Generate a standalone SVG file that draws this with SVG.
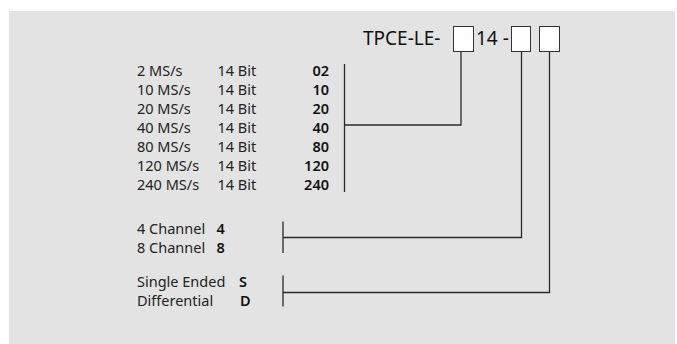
<svg xmlns="http://www.w3.org/2000/svg" width="677" height="344" viewBox="0 0 677 344">
<style>
.t{font-family:"Noto Sans","Open Sans",sans-serif;font-size:14.5px;fill:#222}
.b{font-weight:600;fill:#111}
.e{text-anchor:end}
.ttl{font-family:"Noto Sans","Open Sans",sans-serif;font-size:19px;fill:#111}
.ln{fill:none;stroke:#2a2a2a;stroke-width:1.3}
.bx{fill:#fff;stroke:#333;stroke-width:1}
</style>
<rect x="9" y="11" width="666" height="333" fill="#e3e3e3"/>
<g id="title">
<text class="ttl" x="363" y="45">TPCE-LE-</text>
<text class="ttl" x="476" y="45">14 -</text>
<rect class="bx" x="453.5" y="26.5" width="20" height="25"/>
<rect class="bx" x="511.5" y="26.5" width="19" height="25"/>
<rect class="bx" x="539.5" y="26.5" width="20" height="25"/>
</g>
<g id="speed">
<text class="t" x="137" y="75.5">2 MS/s</text><text class="t" x="217.5" y="75.5">14 Bit</text><text class="t b e" x="329" y="75.5">02</text>
<text class="t" x="137" y="94.6">10 MS/s</text><text class="t" x="217.5" y="94.6">14 Bit</text><text class="t b e" x="329" y="94.6">10</text>
<text class="t" x="137" y="113.7">20 MS/s</text><text class="t" x="217.5" y="113.7">14 Bit</text><text class="t b e" x="329" y="113.7">20</text>
<text class="t" x="137" y="132.8">40 MS/s</text><text class="t" x="217.5" y="132.8">14 Bit</text><text class="t b e" x="329" y="132.8">40</text>
<text class="t" x="137" y="151.9">80 MS/s</text><text class="t" x="217.5" y="151.9">14 Bit</text><text class="t b e" x="329" y="151.9">80</text>
<text class="t" x="137" y="171">120 MS/s</text><text class="t" x="217.5" y="171">14 Bit</text><text class="t b e" x="329" y="171">120</text>
<text class="t" x="137" y="190">240 MS/s</text><text class="t" x="217.5" y="190">14 Bit</text><text class="t b e" x="329" y="190">240</text>
</g>
<g id="channels">
<text class="t" x="137" y="233.5">4 Channel</text><text class="t b" x="216.5" y="233.5">4</text>
<text class="t" x="137" y="252.5">8 Channel</text><text class="t b" x="216.5" y="252.5">8</text>
</g>
<g id="input">
<text class="t" x="137" y="287">Single Ended</text><text class="t b" x="239" y="287">S</text>
<text class="t" x="137" y="306">Differential</text><text class="t b" x="240" y="306">D</text>
</g>
<g id="connectors">
<path class="ln" d="M344.5 64V192M461 51.5V125H344.5"/>
<path class="ln" d="M283 221.5V253M521.5 51.5V237.5H283"/>
<path class="ln" d="M283 275.5V306.5M549.5 51.5V292.5H283"/>
</g>
</svg>
